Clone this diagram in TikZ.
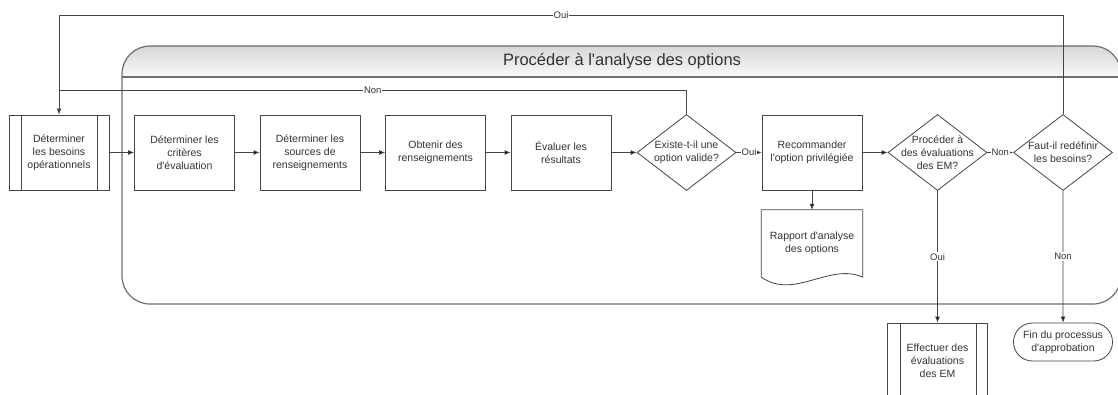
\documentclass[tikz,border=0pt]{standalone}
\usepackage{fontspec}
\setmainfont{Liberation Sans}
\usetikzlibrary{positioning,shapes.geometric,shapes.misc,arrows.meta}
\definecolor{ink}{HTML}{333333}
\definecolor{trait}{HTML}{454545}
\definecolor{couloir}{HTML}{6E6E6E}
\newcommand{\apos}{\textquotesingle}

\begin{document}
\begin{tikzpicture}[x=1pt,y=-1pt,node distance=125.5pt,on grid,
  font=\fontsize{10.5}{12.8}\selectfont,text=ink,
  >={Latex[length=6pt,width=5pt]},
  flow/.style={draw=trait,line width=0.8pt},
  proc/.style={draw=trait,fill=white,line width=0.8pt,minimum width=100pt,minimum height=75pt,inner sep=0pt,align=center},
  dec/.style={diamond,draw=trait,fill=white,line width=0.8pt,minimum width=99pt,minimum height=76pt,inner sep=0pt,label={[align=center]center:#1}},
  term/.style={rounded rectangle,draw=trait,fill=white,line width=0.8pt,minimum width=99pt,minimum height=38pt,inner sep=0pt,align=center},
  doc/.style={minimum width=101pt,minimum height=67pt,inner sep=0pt,align=center},
  lbl/.style={fill=white,inner sep=1pt,font=\fontsize{9.5}{11}\selectfont}]
  \path[use as bounding box,clip] (0,0) rectangle (1118,395);

  % couloir
  \fill[white,rounded corners=28pt] (122,46) rectangle (1121,304);
  \begin{scope}
    \clip[rounded corners=28pt] (122,46) rectangle (1121,304);
    \shade[top color=gray!32,bottom color=gray!4] (122,46) rectangle (1121,77);
  \end{scope}
  \draw[couloir,line width=1.2pt,rounded corners=28pt] (122,46) rectangle (1121,304);
  \draw[couloir,line width=1.2pt] (122,77) -- (1121,77);
  \node[font=\fontsize{16.5}{20}\selectfont] (titre) at (622,61.5) {Procéder à l\apos analyse des options};

  % etapes
  \node[proc] (besoins) at (59,152.5) {Déterminer\\les besoins\\opérationnels};
  \node[proc] (criteres) [right=of besoins] {Déterminer les\\critères\\d\apos évaluation};
  \node[proc] (sources) [right=of criteres] {Déterminer les\\sources de\\renseignements};
  \node[proc] (obtenir) [right=of sources] {Obtenir des\\renseignements};
  \node[proc] (evaluer) [right=of obtenir] {Évaluer les\\résultats};
  \node[dec={Existe-t-il une\\option valide?}] (existe) [right=of evaluer] {};
  \node[proc] (reco) [right=of existe] {Recommander\\l\apos option privilégiée};
  \node[dec={Procéder à\\des évaluations\\des EM?}] (proceder) [right=of reco] {};
  \node[dec={Faut-il redéfinir\\les besoins?}] (faut) [right=of proceder] {};
  \node[doc] (rapport) [below=91pt of reco] {Rapport d\apos analyse\\des options};
  \node[proc] (effectuer) [below=208pt of proceder] {Effectuer des\\évaluations\\des EM};
  \node[term] (fin) [below=189.5pt of faut] {Fin du processus\\d\apos approbation};

  \draw[flow] ([xshift=13pt]besoins.north west) -- ([xshift=13pt]besoins.south west);
  \draw[flow] ([xshift=-12pt]besoins.north east) -- ([xshift=-12pt]besoins.south east);
  \draw[flow] ([xshift=13pt]effectuer.north west) -- ([xshift=13pt]effectuer.south west);
  \draw[flow] ([xshift=-12pt]effectuer.north east) -- ([xshift=-12pt]effectuer.south east);
  \draw[flow] (rapport.south west) -- (rapport.north west) -- (rapport.north east) -- (rapport.south east)
    .. controls +(-33,-15) and +(33,23) .. (rapport.south west);

  \coordinate (haut) at (59,15);
  \coordinate (retour) at (59,90);

  \path[->,flow]
  (besoins) edge (criteres)
  (criteres) edge (sources)
  (sources) edge (obtenir)
  (obtenir) edge (evaluer)
  (evaluer) edge (existe)
  (existe) edge node[lbl] {Oui} (reco)
  (reco) edge (proceder)
  (reco) edge (rapport)
  (proceder) edge node[lbl] {Non} (faut)
  (proceder) edge node[lbl] {Oui} (effectuer)
  (faut) edge node[lbl] {Non} (fin)
  ;
  \draw[flow] (existe.north) |- (retour) node[lbl,pos=0.75] {Non};
  \draw[flow,->] (faut.north) |- (haut) node[lbl,pos=0.75] {Oui} -- (besoins.north);
\end{tikzpicture}
\end{document}
